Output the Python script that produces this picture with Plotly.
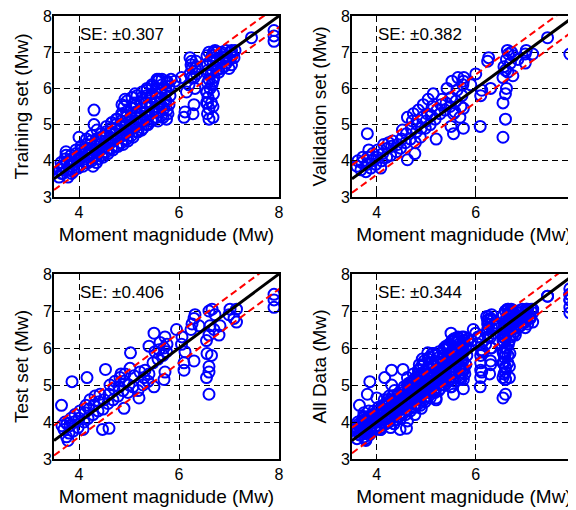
import plotly.graph_objects as go

# ---------------- data ----------------
train_mw = [3.60, 3.62, 3.64, 3.68, 3.70, 3.72, 3.74,
            3.78, 3.80, 3.82, 3.84, 3.88, 3.90, 3.92, 3.94,
            3.98, 4.00, 4.02, 4.04, 4.00, 4.08, 4.10, 4.12, 4.14,
            4.18, 4.20, 4.22, 4.24, 4.28, 4.30, 4.32, 4.34, 4.30, 4.30,
            4.38, 4.40, 4.42, 4.44, 4.48, 4.50, 4.52, 4.54,
            4.58, 4.60, 4.62, 4.64, 4.66, 4.68, 4.70, 4.72, 4.74, 4.76,
            4.78, 4.80, 4.82, 4.84, 4.86, 4.88, 4.90, 4.92, 4.94, 4.90, 4.92,
            4.98, 5.00, 5.02, 5.04, 5.06, 5.08, 5.10, 5.12, 5.14, 5.10, 5.12,
            5.18, 5.20, 5.22, 5.24, 5.26, 5.28, 5.30, 5.32, 5.34, 5.36,
            5.38, 5.40, 5.42, 5.44, 5.46, 5.48, 5.50, 5.52, 5.54, 5.56,
            5.58, 5.60, 5.62, 5.64, 5.66, 5.60, 5.68, 5.70, 5.72, 5.74, 5.76,
            5.78, 5.80, 5.82, 5.80, 5.84, 5.92, 6.05,
            6.10, 6.12, 6.15, 6.20, 6.22, 6.24, 6.22,
            6.28, 6.30, 6.32, 6.30, 6.32, 6.34,
            6.55, 6.55, 6.60, 6.60, 6.58, 6.62, 6.60, 6.58, 6.62, 6.60,
            6.65, 6.66, 6.64, 6.66, 6.70, 6.72, 6.70, 6.72,
            6.80, 6.82, 6.84, 6.90, 6.92, 6.94,
            7.00, 7.02, 7.04, 7.10, 7.12, 7.45, 7.90, 7.90, 7.90,
            # second layer of the dense band
            3.65, 3.66, 3.75, 3.76, 3.74, 3.85, 3.86, 3.84, 3.95, 3.96, 3.94,
            4.05, 4.06, 4.04, 4.15, 4.16, 4.14, 4.15, 4.25, 4.26, 4.24, 4.25,
            4.35, 4.36, 4.34, 4.35, 4.36, 4.45, 4.46, 4.44, 4.45,
            4.55, 4.56, 4.54, 4.55, 4.65, 4.66, 4.64, 4.65,
            4.75, 4.76, 4.74, 4.75, 4.85, 4.86, 4.84, 4.85, 4.86,
            4.95, 4.96, 4.94, 4.95, 4.96, 5.05, 5.06, 5.04, 5.05, 5.06,
            5.15, 5.16, 5.14, 5.15, 5.16, 5.25, 5.26, 5.24, 5.25, 5.26,
            5.35, 5.36, 5.34, 5.35, 5.36, 5.45, 5.46, 5.44, 5.45, 5.46,
            5.55, 5.56, 5.54, 5.55, 5.56, 5.65, 5.66, 5.64, 5.65, 5.66,
            5.75, 5.76, 5.74, 5.75, 5.76,
            6.57, 6.57, 6.56, 6.57, 6.58, 6.57, 6.56,
            6.68, 6.68, 6.69, 6.68, 6.67, 6.68, 6.69,
            6.25, 6.26, 6.25, 6.35, 6.36, 6.75, 6.76, 6.75,
            6.85, 6.86, 6.85, 6.95, 6.96, 7.05, 7.06, 7.05]
train_pred = [3.55, 3.75, 3.95, 3.65, 3.85, 4.05, 4.15,
              3.55, 3.75, 3.95, 4.15, 3.70, 3.90, 4.10, 4.30,
              3.80, 4.00, 4.20, 4.40, 4.65, 3.85, 4.05, 4.25, 4.45,
              3.95, 4.15, 4.35, 4.55, 3.85, 4.10, 4.30, 4.50, 5.00, 5.40,
              4.05, 4.25, 4.45, 4.65, 4.10, 4.35, 4.55, 4.80,
              4.20, 4.45, 4.65, 4.90, 5.05, 4.30, 4.55, 4.75, 5.00, 5.15,
              4.40, 4.65, 4.85, 5.10, 5.25, 4.45, 4.70, 4.95, 5.20, 5.50, 5.70,
              4.55, 4.80, 5.00, 5.25, 5.45, 4.65, 4.90, 5.10, 5.35, 5.60, 5.85,
              4.80, 5.00, 5.20, 5.45, 5.75, 4.90, 5.10, 5.35, 5.60, 5.95,
              5.00, 5.25, 5.50, 5.75, 6.05, 5.15, 5.40, 5.65, 5.90, 6.20,
              5.10, 5.35, 5.60, 5.85, 6.10, 6.25, 5.20, 5.45, 5.70, 5.95, 6.20,
              5.30, 5.55, 5.80, 6.05, 6.25, 6.20, 6.30,
              5.20, 5.35, 5.90, 6.10, 6.40, 6.65, 6.85,
              5.30, 5.55, 6.00, 6.30, 6.55, 6.75,
              5.60, 5.90, 5.15, 5.45, 5.75, 6.00, 6.25, 6.50, 6.75, 7.00,
              5.60, 6.10, 6.40, 6.90, 6.30, 6.60, 6.85, 7.05,
              6.45, 6.70, 6.95, 6.60, 6.85, 7.05,
              6.55, 6.80, 7.00, 6.85, 7.05, 7.40, 7.30, 7.45, 7.60,
              # second layer of the dense band
              3.65, 3.85, 3.75, 3.95, 4.25, 3.65, 3.85, 4.05, 3.80, 4.00, 4.20,
              3.90, 4.10, 4.30, 3.95, 4.15, 4.35, 4.60, 4.00, 4.20, 4.45, 4.70,
              3.95, 4.15, 4.40, 4.60, 4.85, 4.15, 4.35, 4.55, 4.75,
              4.25, 4.50, 4.70, 4.95, 4.35, 4.60, 4.80, 5.05,
              4.40, 4.65, 4.90, 5.15, 4.50, 4.75, 5.00, 5.30, 5.55,
              4.60, 4.85, 5.10, 5.35, 5.65, 4.70, 4.95, 5.20, 5.45, 5.75,
              4.80, 5.05, 5.30, 5.55, 5.80, 4.85, 5.10, 5.35, 5.60, 5.90,
              5.00, 5.25, 5.50, 5.80, 6.00, 5.10, 5.35, 5.60, 5.85, 6.10,
              5.20, 5.50, 5.75, 6.00, 6.25, 5.25, 5.50, 5.75, 6.00, 6.25,
              5.15, 5.40, 5.65, 5.90, 6.15,
              5.30, 5.60, 5.90, 6.15, 6.40, 6.65, 6.90,
              5.20, 5.50, 5.85, 6.20, 6.50, 6.75, 7.00,
              6.30, 6.55, 6.75, 6.40, 6.60, 6.50, 6.80, 7.00,
              6.55, 6.80, 7.00, 6.70, 6.90, 6.65, 6.90, 7.05]

valid_mw = [3.60, 3.62, 3.68, 3.70, 3.72,
            3.78, 3.80, 3.82, 3.84, 3.81, 3.88, 3.90, 3.92,
            3.98, 4.00, 4.02, 4.08, 4.10, 4.12, 4.14,
            4.20, 4.22, 4.24, 4.28, 4.30, 4.32, 4.40, 4.42,
            4.48, 4.50, 4.52, 4.62, 4.58, 4.60, 4.62,
            4.77, 4.68, 4.70, 4.72, 4.74, 4.78, 4.80, 4.82, 4.84,
            4.88, 4.90, 4.92, 4.94, 4.98, 5.00, 5.02, 5.04,
            5.08, 5.10, 5.12, 5.14, 5.20, 5.18, 5.22,
            5.28, 5.30, 5.32, 5.38, 5.40, 5.42,
            5.50, 5.48, 5.50, 5.52, 5.55, 5.55,
            5.58, 5.60, 5.62, 5.64, 5.68, 5.70, 5.72, 5.74, 5.76,
            5.75, 5.75, 5.75, 5.90, 6.00, 6.09, 6.10, 6.12,
            6.24, 6.26, 6.30, 6.55, 6.55, 6.55, 6.57,
            6.60, 6.60, 6.62, 6.60, 6.62, 6.65, 6.66, 6.64,
            6.70, 6.72, 6.75, 6.76, 6.85, 7.00, 7.00, 7.02, 7.15, 7.45, 7.90]
valid_pred = [3.85, 4.00, 3.75, 3.95, 4.10,
              3.70, 3.90, 4.10, 4.30, 4.75, 3.80, 4.00, 4.20,
              3.90, 4.10, 4.30, 3.80, 4.00, 4.20, 4.45,
              4.10, 4.35, 4.50, 4.15, 4.40, 4.55, 4.25, 4.45,
              4.35, 4.60, 4.85, 4.03, 4.50, 4.75, 5.20,
              4.20, 4.60, 4.90, 5.10, 5.30, 4.50, 4.80, 5.00, 5.40,
              4.65, 4.90, 5.20, 5.55, 4.90, 5.10, 5.30, 5.70,
              5.00, 5.25, 5.50, 5.85, 4.60, 5.15, 5.40,
              5.30, 5.55, 5.70, 5.40, 5.60, 6.00,
              4.95, 5.50, 5.75, 6.20, 4.75, 5.30,
              5.35, 5.65, 5.95, 6.30, 5.20, 5.50, 5.80, 6.10, 6.30,
              4.90, 5.45, 6.20, 6.10, 6.40, 4.95, 5.80, 5.95,
              6.75, 6.85, 6.00, 4.65, 5.60, 6.30, 6.60,
              5.15, 5.85, 6.00, 6.50, 6.80, 6.45, 6.95, 7.05,
              6.70, 7.00, 6.35, 6.90, 6.80, 6.70, 6.95, 7.05, 6.95, 7.40, 6.95]

test_mw = [3.65, 3.66, 3.70, 3.72, 3.75, 3.76,
           3.78, 3.80, 3.82, 3.84, 3.86, 3.88, 3.90, 3.92,
           3.98, 4.00, 4.02, 4.08, 4.10, 4.12, 4.14, 4.16,
           4.18, 4.20, 4.22, 4.28, 4.30, 4.32, 4.38, 4.40, 4.42, 4.47,
           4.48, 4.50, 4.53, 4.60, 4.58, 4.60, 4.62,
           4.68, 4.70, 4.72, 4.78, 4.80, 4.82, 4.84,
           4.90, 4.88, 4.90, 4.92, 4.98, 5.00, 5.02, 5.03,
           5.08, 5.10, 5.20, 5.18, 5.22, 5.28, 5.30, 5.32,
           5.38, 5.40, 5.40, 5.50, 5.48, 5.52, 5.50,
           5.58, 5.60, 5.62, 5.70, 5.72, 5.68, 5.70, 5.72, 5.75, 5.76,
           5.95, 6.05, 6.06, 6.10, 6.10, 6.12,
           6.24, 6.26, 6.30, 6.30, 6.32, 6.40,
           6.55, 6.56, 6.55, 6.60, 6.60, 6.60, 6.60, 6.62, 6.60, 6.65, 6.66,
           6.70, 6.72, 6.80, 6.82, 7.00, 7.02, 7.10, 7.15, 7.15, 7.90, 7.90, 7.90]
test_pred = [4.45, 3.90, 3.80, 4.00, 3.60, 3.95,
             3.50, 3.70, 3.90, 4.10, 5.09, 3.75, 4.00, 4.20,
             3.85, 4.10, 4.30, 3.80, 4.00, 4.25, 4.45, 5.20,
             4.10, 4.35, 4.60, 4.20, 4.45, 4.70, 4.30, 4.55, 4.75, 3.80,
             4.35, 4.60, 5.42, 3.83, 4.50, 4.75, 5.00,
             4.60, 4.90, 5.10, 4.70, 4.95, 5.20, 5.30,
             4.37, 4.85, 5.10, 5.30, 4.80, 5.00, 5.45, 5.87,
             4.95, 5.25, 4.65, 4.85, 5.35, 5.00, 5.20, 5.40,
             5.10, 5.30, 6.05, 4.95, 5.60, 5.90, 6.40,
             5.70, 5.95, 6.15, 5.15, 5.35, 5.80, 6.00, 6.30, 5.90, 6.10,
             6.50, 6.10, 6.30, 5.40, 5.60, 5.90,
             6.50, 6.65, 5.65, 6.80, 6.90, 6.60,
             5.20, 5.85, 6.20, 4.75, 5.35, 5.50, 6.35, 6.60, 7.00, 5.80, 7.05,
             6.50, 6.90, 6.35, 6.60, 6.90, 7.05, 6.80, 6.70, 7.05, 7.10, 7.30, 7.45]

all_mw = train_mw + valid_mw + test_mw
all_pred = train_pred + valid_pred + test_pred

panel_titles = ["Training set (Mw)", "Validation set (Mw)", "Test set (Mw)", "All Data (Mw)"]
panel_se = [0.307, 0.382, 0.406, 0.344]
panel_x = [train_mw, valid_mw, test_mw, all_mw]
panel_y = [train_pred, valid_pred, test_pred, all_pred]
x_label = "Moment magnidude (Mw)"
x_ticks = [4, 6, 8]
y_ticks = [3, 4, 5, 6, 7, 8]
line_x = [3.5, 8.1]

# ---------------- layout geometry ----------------
# the page body has an 8px margin, so the figure is 8px smaller and
# all window positions are shifted by 8px
OFF = 8
W, H = 576 - OFF, 510 - OFF
def px_x(a, b):
    return [(a - OFF) / W, min(1.0, (b - OFF) / W)]
def px_y(top, bottom):
    return [1 - (bottom - OFF) / H, 1 - (top - OFF) / H]

x_domains = [px_x(54, 279), px_x(352, 576), px_x(54, 279), px_x(352, 576)]
y_domains = [px_y(16, 197), px_y(16, 197), px_y(274, 459), px_y(274, 459)]
x_ranges = [[3.5, 8.0], [3.5, 8.025], [3.5, 8.0], [3.5, 8.025]]

FONT = "Liberation Sans, Arial, sans-serif"
fig = go.Figure()
layout = dict(width=W, height=H, margin=dict(l=0, r=0, t=0, b=0, autoexpand=False),
              paper_bgcolor="white", plot_bgcolor="white", showlegend=False,
              font=dict(family=FONT, color="black"))
annotations = []

for i in range(4):
    xa = "x" if i == 0 else f"x{i+1}"
    ya = "y" if i == 0 else f"y{i+1}"
    se = panel_se[i]
    fig.add_trace(go.Scatter(
        x=panel_x[i], y=panel_y[i], mode="markers", xaxis=xa, yaxis=ya,
        marker=dict(symbol="circle-open", size=11, color="#0000ff",
                    line=dict(width=2, color="#0000ff"))))
    fig.add_trace(go.Scatter(
        x=line_x, y=[v + se for v in line_x], mode="lines", xaxis=xa, yaxis=ya,
        line=dict(color="#ff0000", width=2, dash="7px,4px")))
    fig.add_trace(go.Scatter(
        x=line_x, y=[v - se for v in line_x], mode="lines", xaxis=xa, yaxis=ya,
        line=dict(color="#ff0000", width=2, dash="7px,4px")))
    fig.add_trace(go.Scatter(
        x=line_x, y=line_x, mode="lines", xaxis=xa, yaxis=ya,
        line=dict(color="black", width=3)))

    right = i in (1, 3)
    layout["xaxis" if i == 0 else f"xaxis{i+1}"] = dict(
        domain=x_domains[i], range=x_ranges[i], anchor=ya, automargin=False,
        tickvals=x_ticks, ticks="inside", ticklen=5, tickcolor="black",
        showline=True, linecolor="black", linewidth=2, mirror="ticks",
        showgrid=True, gridcolor="black", gridwidth=1, griddash="6px,4px",
        zeroline=False, tickfont=dict(size=16, family=FONT, color="black"),
        ticklabeloverflow="allow",
        title=dict(text=x_label, font=dict(size=19, family=FONT, color="black"), standoff=7))
    layout["yaxis" if i == 0 else f"yaxis{i+1}"] = dict(
        domain=y_domains[i], range=[3, 8], anchor=xa, automargin=False,
        tickvals=y_ticks, ticks="inside", ticklen=5, tickcolor="black",
        showline=True, linecolor="black", linewidth=2,
        mirror=False if right else "ticks",
        showgrid=True, gridcolor="black", gridwidth=1, griddash="6px,4px",
        zeroline=False, tickfont=dict(size=16, family=FONT, color="black"),
        ticklabeloverflow="allow", ticklabelstandoff=-3,
        title=dict(text=panel_titles[i], font=dict(size=19, family=FONT, color="black"), standoff=9))
    annotations.append(dict(
        text=f"SE: \u00b1{se:.3f}", x=3.98, y=7.5, xref=xa, yref=ya,
        xanchor="left", yanchor="middle", showarrow=False,
        font=dict(size=17, family=FONT, color="black")))

layout["annotations"] = annotations
fig.update_layout(**layout)
fig.write_html("out.html")
